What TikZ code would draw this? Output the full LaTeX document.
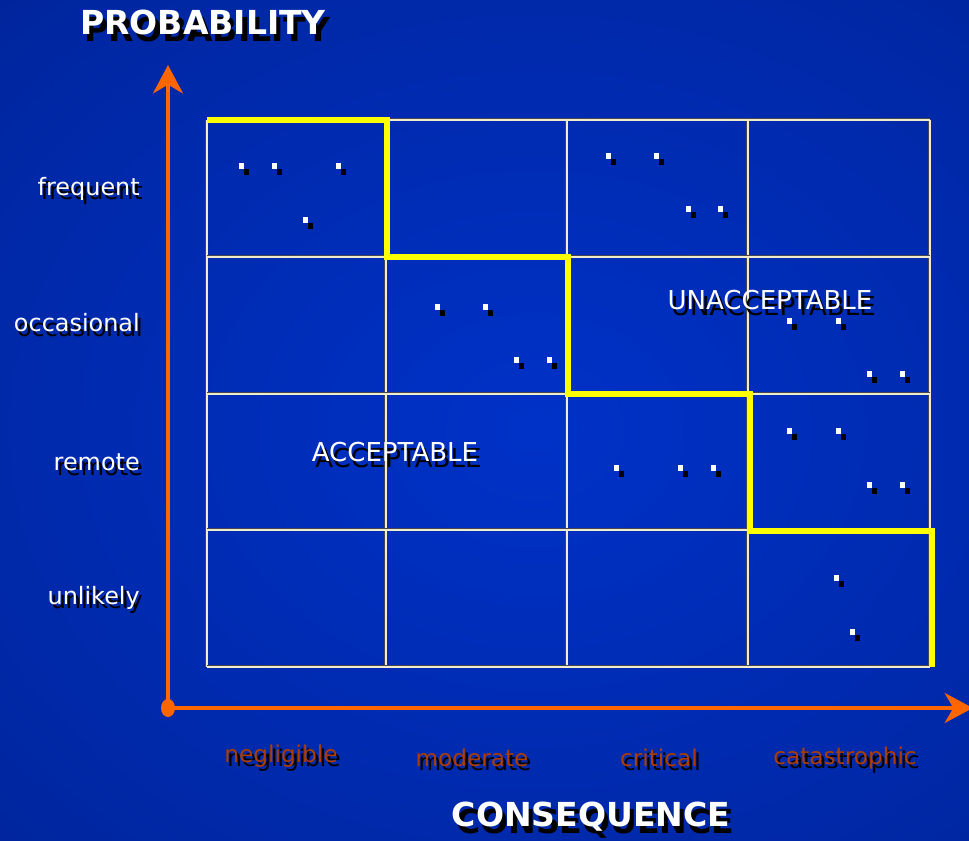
\documentclass[tikz,border=0pt]{standalone}
\usepackage{fontspec}
\setmainfont{DejaVu Sans}
\usetikzlibrary{arrows.meta,positioning}
\definecolor{rmnavy}{RGB}{4,22,104}
\definecolor{rmmid}{RGB}{0,38,160}
\definecolor{rmblue}{RGB}{0,50,200}
\definecolor{rmorange}{RGB}{255,102,0}
\definecolor{rmbrown}{RGB}{172,60,0}
\definecolor{rmgrid}{RGB}{240,236,204}
\definecolor{rmgridshade}{RGB}{70,70,80}
\definecolor{rmyellow}{RGB}{255,255,0}
\pgfdeclareradialshading{rmglow}{\pgfpoint{0bp}{0bp}}{color(0bp)=(rmblue); color(30bp)=(rmmid); color(50bp)=(rmnavy); color(80bp)=(rmnavy)}
\newcommand{\shadowed}[1]{\makebox[0pt][l]{\hspace{0.13em}\raisebox{-0.2em}{\color{black}#1}}#1}

\begin{document}
\begin{tikzpicture}[x=0.025cm,y=-0.025cm,
  axistitle/.style={text=white, inner sep=0pt, font=\fontsize{23.5}{26}\selectfont\bfseries},
  rowlabel/.style={anchor=east, text=white, inner sep=0pt, font=\fontsize{17}{19}\selectfont},
  collabel/.style={text=rmbrown, inner sep=0pt, font=\fontsize{16.5}{19}\selectfont},
  zonelabel/.style={text=white, inner sep=0pt, font=\fontsize{18.5}{21}\selectfont},
  axis/.style={rmorange, line width=3.5pt, -{Stealth[length=20pt, width=21pt, inset=6pt]}},
  border/.style={rmyellow, line width=4pt, line join=miter}]
  % background
  \useasboundingbox (0,0) rectangle (969,841);
  \shade[shading=rmglow] (-60,-40) rectangle (1130,900);
  % grid of cells
  \foreach \x in {207,386,567,748,930} {
    \draw[rmgridshade, line width=0.7pt] (\x-1.5,120) -- (\x-1.5,667);
    \draw[rmgrid, line width=0.8pt] (\x,120) -- (\x,667);
  }
  \foreach \y in {120,257,394,530,667} {
    \draw[rmgridshade, line width=0.7pt] (207,\y-1.5) -- (930,\y-1.5);
    \draw[rmgrid, line width=0.8pt] (207,\y) -- (930,\y);
  }
  % acceptable / unacceptable boundary
  \draw[border] (207,120) -- (387,120) -- (387,257) -- (568,257) -- (568,394)
    -- (750,394) -- (750,531) -- (932,531) -- (932,667);
  % risk points
  \foreach \x/\y in {239/163, 272/163, 336/163, 303/217,
                     606/153, 654/153, 686/206, 718/206,
                     435/304, 483/304, 514/357, 547/357,
                     787/318, 836/318, 867/371, 900/371,
                     614/465, 678/465, 711/465,
                     787/428, 836/428, 867/482, 900/482,
                     834/575, 850/629} {
    \fill[black] (\x+5,\y+6) rectangle +(5,6);
    \fill[white] (\x,\y) rectangle +(5,6);
  }
  % axes
  \coordinate (origin) at (168,708);
  \coordinate (ytip) at (168,65);
  \coordinate (xtip) at (973,708);
  \draw[axis] (origin) -- (ytip);
  \draw[axis] (origin) -- (xtip);
  \fill[rmorange] (origin) ellipse (7 and 9);
  % titles
  \node[axistitle] (prob) at (203,26) {\shadowed{PROBABILITY}};
  \node[axistitle] (cons) at (591,820) {\shadowed{CONSEQUENCE}};
  % probability levels
  \node[rowlabel] (frequent) at (140,191) {\shadowed{frequent}};
  \node[rowlabel] (occasional) at (140,325) {\shadowed{occasional}};
  \node[rowlabel] (remote) at (140,465) {\shadowed{remote}};
  \node[rowlabel] (unlikely) at (140,600) {\shadowed{unlikely}};
  % consequence levels
  \node[collabel] (negligible) at (281,758) {\shadowed{negligible}};
  \node[collabel] (moderate) at (472,760) {\shadowed{moderate}};
  \node[collabel] (critical) at (659,760) {\shadowed{critical}};
  \node[collabel] (catastrophic) at (845,760) {\shadowed{catastrophic}};
  % zones
  \node[zonelabel] (acc) at (395,455) {\shadowed{ACCEPTABLE}};
  \node[zonelabel] (unacc) at (770,303) {\shadowed{UNACCEPTABLE}};
\end{tikzpicture}
\end{document}
